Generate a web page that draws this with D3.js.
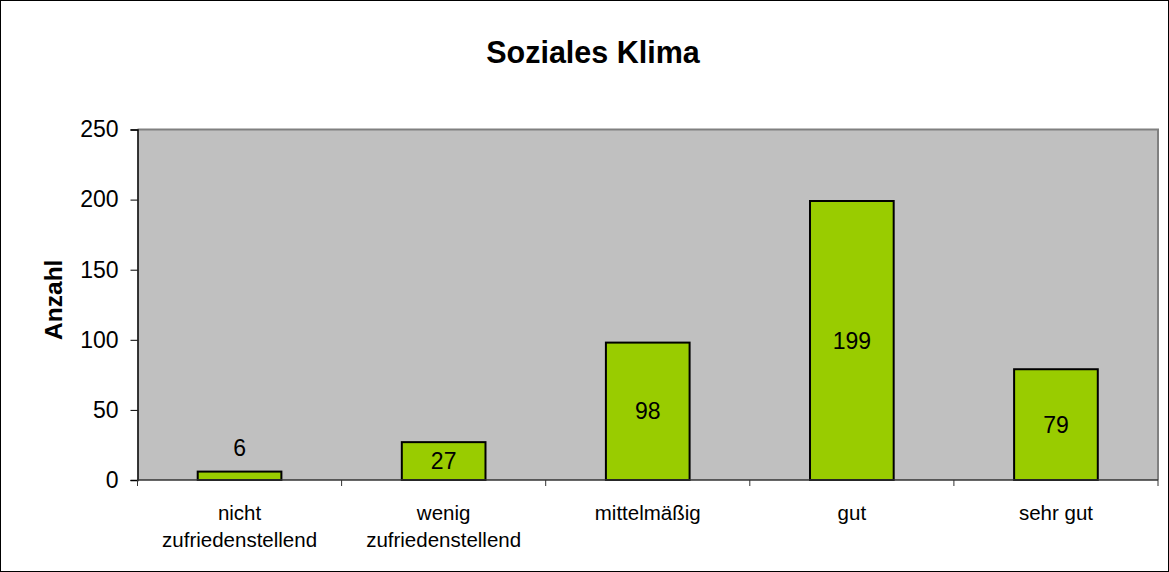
<!DOCTYPE html>
<html>
<head>
<meta charset="utf-8">
<script src="https://cdn.jsdelivr.net/npm/d3@7"></script>
<style>
  body { margin: 0; background: #fff; }
  svg { display: block; font-family: Arial, "Liberation Sans", sans-serif; }
</style>
</head>
<body>
<svg id="chart" width="1169" height="572"></svg>
<script>
// data
var categories = ["nicht zufriedenstellend", "wenig zufriedenstellend", "mittelmäßig", "gut", "sehr gut"];
var values = [6, 27, 98, 199, 79];
var yTicks = [0, 50, 100, 150, 200, 250];

(function(){
  var svg = d3.select('#chart');
  var W = 1169, H = 572;
  var pLeft = 137.5, pRight = 1158, pTop = 129.5, pBottom = 480;

  // outer chart border
  svg.append('rect')
    .attr('x', 0.5).attr('y', 0.5)
    .attr('width', W - 1).attr('height', H - 1)
    .attr('fill', '#fff').attr('stroke', '#000');

  var x = d3.scaleBand()
    .domain(categories)
    .range([pLeft, pRight])
    .paddingInner(0.59)
    .paddingOuter(0.295);

  var y = d3.scaleLinear().domain([0, 250]).range([pBottom, pTop]);

  // plot area
  svg.append('rect')
    .attr('x', pLeft).attr('y', pTop)
    .attr('width', pRight - pLeft).attr('height', pBottom - pTop)
    .attr('fill', '#c0c0c0');

  // gray top/right border of plot area
  svg.append('path')
    .attr('d', 'M' + pLeft + ',' + pTop + 'H' + pRight + 'V' + pBottom)
    .attr('fill', 'none')
    .attr('stroke', '#808080')
    .attr('stroke-width', 2);

  // bars
  svg.selectAll('rect.bar')
    .data(values)
    .enter().append('rect')
    .attr('class', 'bar')
    .attr('x', function(d, i) { return x(categories[i]); })
    .attr('y', function(d) { return y(d); })
    .attr('width', x.bandwidth())
    .attr('height', function(d) { return y(0) - y(d); })
    .attr('fill', '#99cc00')
    .attr('stroke', '#000')
    .attr('stroke-width', 2);

  // value labels: centered in bar, above it if the bar is too short
  svg.selectAll('text.val')
    .data(values)
    .enter().append('text')
    .attr('class', 'val')
    .attr('x', function(d, i) { return x(categories[i]) + x.bandwidth() / 2; })
    .attr('y', function(d) {
      var h = y(0) - y(d);
      return h < 30 ? y(d) - 16 : (y(d) + y(0)) / 2 + 8;
    })
    .attr('text-anchor', 'middle')
    .attr('font-size', 23)
    .attr('fill', '#000')
    .text(function(d) { return d; });

  // y axis
  var yAxis = d3.axisLeft(y).tickValues(yTicks).tickSize(7).tickPadding(12);
  var gy = svg.append('g')
    .attr('transform', 'translate(' + pLeft + ',0)')
    .call(yAxis);
  gy.select('.domain').attr('stroke', '#000').attr('stroke-width', 1.5);
  gy.selectAll('.tick line').attr('stroke', '#000');
  gy.selectAll('.tick text')
    .attr('font-size', 23)
    .attr('font-family', 'Arial, "Liberation Sans", sans-serif')
    .attr('fill', '#000');

  // x axis with ticks between categories
  var xBounds = d3.range(categories.length + 1).map(function(i) { return pLeft + i * x.step(); });
  svg.append('line')
    .attr('x1', pLeft).attr('x2', pRight)
    .attr('y1', pBottom).attr('y2', pBottom)
    .attr('stroke', '#333').attr('stroke-width', 1.5);
  svg.selectAll('line.xtick')
    .data(xBounds)
    .enter().append('line')
    .attr('class', 'xtick')
    .attr('x1', function(d) { return d; }).attr('x2', function(d) { return d; })
    .attr('y1', pBottom).attr('y2', pBottom + 6)
    .attr('stroke', '#333');

  // category labels, wrapped on spaces for the long ones
  svg.selectAll('text.cat')
    .data(categories)
    .enter().append('text')
    .attr('class', 'cat')
    .attr('text-anchor', 'middle')
    .attr('font-size', 20.5)
    .attr('fill', '#000')
    .each(function(d) {
      var lines = d.indexOf('zufrieden') >= 0 ? d.split(' ') : [d];
      var t = d3.select(this);
      lines.forEach(function(l, j) {
        t.append('tspan')
          .attr('x', x(d) + x.bandwidth() / 2)
          .attr('y', 520 + j * 27)
          .text(l);
      });
    });

  // title
  svg.append('text')
    .attr('x', 593).attr('y', 63)
    .attr('text-anchor', 'middle')
    .attr('font-size', 30.5)
    .attr('font-weight', 'bold')
    .text('Soziales Klima');

  // y axis title
  svg.append('text')
    .attr('transform', 'translate(62,' + ((pTop + pBottom) / 2 - 5) + ') rotate(-90)')
    .attr('text-anchor', 'middle')
    .attr('font-size', 24.5)
    .attr('font-weight', 'bold')
    .text('Anzahl');
}());
</script>
</body>
</html>
